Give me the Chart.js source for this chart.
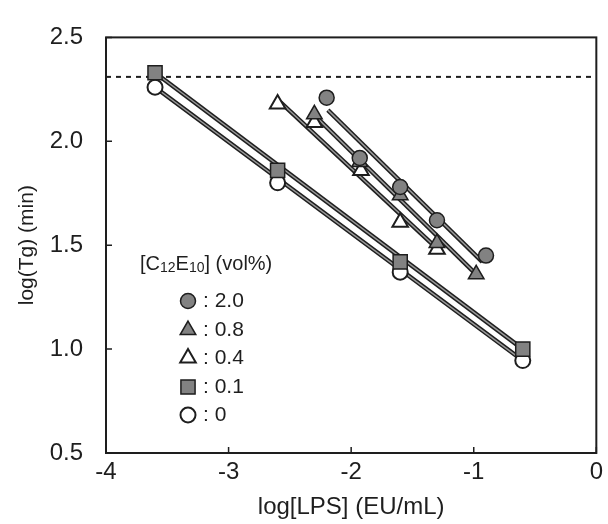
<!DOCTYPE html>
<html>
<head>
<meta charset="utf-8">
<title>log(Tg) vs log[LPS]</title>
<script src="https://cdn.jsdelivr.net/npm/chart.js@4.4.1/dist/chart.umd.min.js"></script>
<style>
  html, body { margin: 0; padding: 0; background: #fff; }
  #wrap { width: 608px; height: 524px; }
</style>
</head>
<body>
<div id="wrap"><canvas id="chart" width="608" height="524"></canvas></div>
<script>
// measured points, [C12E10] vol%
const xC20 = [-2.2, -1.93, -1.6, -1.3, -0.9];
const yC20 = [2.21, 1.92, 1.78, 1.62, 1.45];
const xC08 = [-2.3, -1.93, -1.6, -1.3, -0.98];
const yC08 = [2.13, 1.90, 1.74, 1.51, 1.36];
const xC04 = [-2.6, -2.3, -1.92, -1.6, -1.3];
const yC04 = [2.18, 2.09, 1.86, 1.61, 1.48];
const xC01 = [-3.6, -2.6, -1.6, -0.6];
const yC01 = [2.33, 1.86, 1.42, 1.0];
const xC00 = [-3.6, -2.6, -1.6, -0.6];
const yC00 = [2.26, 1.80, 1.37, 0.945];

// fitted lines (end points)
const fitX20 = [-2.19, -0.93], fitY20 = [2.15, 1.42];
const fitX08 = [-2.29, -0.98], fitY08 = [2.12, 1.36];
const fitX04 = [-2.58, -1.31], fitY04 = [2.19, 1.49];
const fitX01 = [-3.6, -0.6], fitY01 = [2.33, 1.0];
const fitX00 = [-3.6, -0.6], fitY00 = [2.26, 0.945];

const threshold = 2.31;
const xTicks = [-4, -3, -2, -1, 0];
const yTicks = [0.5, 1.0, 1.5, 2.0, 2.5];

const legendTitle = ['[C', '12', 'E', '10', '] (vol%)'];
const legendLabels = [': 2.0', ': 0.8', ': 0.4', ': 0.1', ': 0'];

const INK = '#1e1e1e';
const FILL = '#828282';
const FONT = "'Liberation Sans', Arial, sans-serif";

const pts = (xs, ys) => xs.map((x, i) => ({ x: x, y: ys[i] }));

const markers = [
    { style: 'circle',   radius: 7.5, fill: FILL,   bw: 1.5 },
    { style: 'triangle', radius: 9,   fill: FILL,   bw: 1.5 },
    { style: 'triangle', radius: 9,   fill: '#fff', bw: 2 },
    { style: 'rect',     radius: 10,  fill: FILL,   bw: 1.5 },
    { style: 'circle',   radius: 7.5, fill: '#fff', bw: 2 }
];

function pointSet(xs, ys, m) {
    return {
        data: pts(xs, ys),
        showLine: false,
        pointStyle: m.style,
        pointRadius: m.radius,
        pointBackgroundColor: m.fill,
        pointBorderColor: INK,
        pointBorderWidth: m.bw,
        order: 1
    };
}

// each fit line is a dark band with a grey core
function lineSets(xs, ys) {
    const base = { data: pts(xs, ys), showLine: true, pointRadius: 0, fill: false };
    return [
        Object.assign({}, base, { borderColor: INK, borderWidth: 4.5, order: 3 }),
        Object.assign({}, base, { borderColor: '#9a9a9a', borderWidth: 1.5, order: 2 })
    ];
}

const datasets = [
    {
        data: pts([-4, 0], [threshold, threshold]),
        showLine: true, pointRadius: 0,
        borderColor: INK, borderWidth: 2, borderDash: [5, 5], order: 4
    },
    ...lineSets(fitX20, fitY20),
    ...lineSets(fitX08, fitY08),
    ...lineSets(fitX04, fitY04),
    ...lineSets(fitX01, fitY01),
    ...lineSets(fitX00, fitY00),
    pointSet(xC20, yC20, markers[0]),
    pointSet(xC08, yC08, markers[1]),
    pointSet(xC04, yC04, markers[2]),
    pointSet(xC01, yC01, markers[3]),
    pointSet(xC00, yC00, markers[4])
];

// frame + inward ticks + in-plot legend
const decorations = {
    id: 'decorations',
    afterDraw(chart) {
        const ctx = chart.ctx;
        const a = chart.chartArea;
        const xs = chart.scales.x, ys = chart.scales.y;
        ctx.save();
        ctx.strokeStyle = INK;
        ctx.lineWidth = 2;
        ctx.strokeRect(a.left, a.top, a.right - a.left, a.bottom - a.top);

        ctx.lineWidth = 1.5;
        ctx.beginPath();
        xTicks.forEach(v => {
            const px = xs.getPixelForValue(v);
            ctx.moveTo(px, a.bottom); ctx.lineTo(px, a.bottom - 6);
        });
        yTicks.forEach(v => {
            const py = ys.getPixelForValue(v);
            ctx.moveTo(a.left, py); ctx.lineTo(a.left + 6, py);
        });
        ctx.stroke();

        // legend
        ctx.fillStyle = INK;
        ctx.textBaseline = 'middle';
        let tx = 140;
        const ty = 264;
        legendTitle.forEach((part, i) => {
            const sub = (i === 1 || i === 3);
            ctx.font = (sub ? '14px ' : '20px ') + FONT;
            ctx.fillText(part, tx, sub ? ty + 4 : ty);
            tx += ctx.measureText(part).width;
        });

        const rowY = [301, 330, 358, 387, 415];
        legendLabels.forEach((label, i) => {
            const m = markers[i];
            ctx.fillStyle = m.fill;
            ctx.strokeStyle = INK;
            ctx.lineWidth = m.bw;
            Chart.helpers.drawPoint(ctx, { pointStyle: m.style, radius: m.radius, borderWidth: m.bw, rotation: 0 }, 188, rowY[i]);
            ctx.fillStyle = INK;
            ctx.font = '21px ' + FONT;
            ctx.fillText(label, 203, rowY[i]);
        });
        ctx.restore();
    }
};

new Chart(document.getElementById('chart'), {
    type: 'scatter',
    data: { datasets: datasets },
    options: {
        responsive: false,
        animation: false,
        layout: { padding: { top: 25, right: 10, left: 0, bottom: 0 } },
        plugins: {
            legend: { display: false },
            tooltip: { enabled: false }
        },
        scales: {
            x: {
                type: 'linear',
                min: -4, max: 0,
                afterFit(scale) { scale.height = 71; },
                afterBuildTicks(scale) { scale.ticks = xTicks.map(v => ({ value: v })); },
                grid: { display: false, drawTicks: false },
                border: { display: false },
                ticks: {
                    color: INK, padding: 5,
                    font: { family: FONT, size: 24 },
                    callback: v => String(v)
                },
                title: {
                    display: true, text: 'log[LPS] (EU/mL)', color: INK,
                    font: { family: FONT, size: 24 },
                    padding: { top: 0, bottom: 2 }
                }
            },
            y: {
                type: 'linear',
                min: 0.5, max: 2.5,
                afterFit(scale) { scale.width = 106; },
                afterBuildTicks(scale) { scale.ticks = yTicks.map(v => ({ value: v })); },
                grid: { display: false, drawTicks: false },
                border: { display: false },
                ticks: {
                    color: INK, padding: 23,
                    font: { family: FONT, size: 24 },
                    callback: v => v.toFixed(1)
                },
                title: {
                    display: true, text: 'log(Tg) (min)', color: INK,
                    font: { family: FONT, size: 21 },
                    padding: { top: 15, bottom: 0 }
                }
            }
        }
    },
    plugins: [decorations]
});
</script>
</body>
</html>
